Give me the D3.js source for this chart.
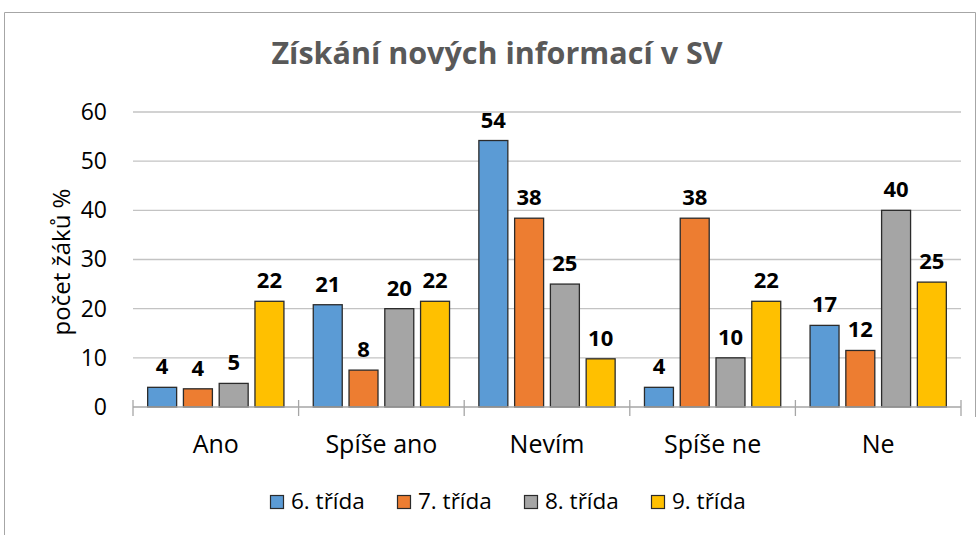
<!DOCTYPE html>
<html>
<head>
<meta charset="utf-8">
<script src="https://cdn.jsdelivr.net/npm/d3@7"></script>
<style>
  html, body { margin: 0; padding: 0; background: #fff; }
  svg { display: block; font-family: "Open Sans", sans-serif; }
</style>
</head>
<body>
<div id="container"></div>
<script>
const categories = ["Ano", "Spíše ano", "Nevím", "Spíše ne", "Ne"]
const seriesNames = ["6. třída", "7. třída", "8. třída", "9. třída"]
const trida6 = [4.0, 20.8, 54.2, 4.0, 16.6]
const trida7 = [3.7, 7.5, 38.4, 38.4, 11.5]
const trida8 = [4.8, 20.0, 25.0, 10.0, 40.0]
const trida9 = [21.5, 21.5, 9.8, 21.5, 25.4]
const yTicks = [0, 10, 20, 30, 40, 50, 60]
const colors = ["#5B9BD5", "#ED7D31", "#A5A5A5", "#FFC000"]

const allSeries = [trida6, trida7, trida8, trida9]

const width = 977
const height = 535
const margin = {top: 112, right: 16, bottom: 128, left: 133}
const innerW = width - margin.left - margin.right
const innerH = height - margin.top - margin.bottom

const svg = d3.create("svg")
    .attr("width", width)
    .attr("height", height)

// chart frame
svg.append("path")
    .attr("d", `M4.5,${height} L4.5,12.5 L975.5,12.5 L975.5,417`)
    .attr("fill", "none")
    .attr("stroke", "#a6a6a6")
    .attr("stroke-width", 1)

svg.append("text")
    .attr("x", 497)
    .attr("y", 64)
    .attr("text-anchor", "middle")
    .attr("font-size", "30.5px")
    .attr("font-weight", "bold")
    .attr("fill", "#595959")
    .text("Získání nových informací v SV")

const g = svg.append("g")
    .attr("transform", `translate(${margin.left},${margin.top})`)

const x0 = d3.scaleBand()
    .domain(categories)
    .range([0, innerW])
    .padding(0)

const x1 = d3.scaleBand()
    .domain(seriesNames)
    .range([0, x0.bandwidth()])
    .paddingInner(0.19)
    .paddingOuter(0.41)

const y = d3.scaleLinear()
    .domain([0, 60])
    .range([innerH, 0])

// gridlines
g.append("g")
    .selectAll("line")
    .data(yTicks.filter(d => d > 0))
    .enter()
    .append("line")
    .attr("x1", 0)
    .attr("x2", innerW)
    .attr("y1", d => y(d))
    .attr("y2", d => y(d))
    .attr("stroke", "#c3c3c3")
    .attr("stroke-width", 1.3)

// y axis labels
const yAxis = g.append("g")
    .call(d3.axisLeft(y).tickValues(yTicks).tickSize(0).tickPadding(26))
yAxis.select(".domain").remove()
yAxis.selectAll("text")
    .attr("font-size", "23px")
    .attr("font-family", "Open Sans, sans-serif")
    .attr("fill", "#000")

// y axis title
svg.append("text")
    .attr("transform", "translate(70,262) rotate(-90)")
    .attr("text-anchor", "middle")
    .attr("font-size", "24px")
    .attr("fill", "#000")
    .text("počet žáků %")

// bars
const groups = g.selectAll(".group")
    .data(categories)
    .enter()
    .append("g")
    .attr("class", "group")
    .attr("transform", d => `translate(${x0(d)},0)`)

const barData = (c, ci) => seriesNames.map((s, si) => ({series: s, si: si, value: allSeries[si][ci]}))

groups.selectAll("rect")
    .data((c, ci) => barData(c, ci))
    .enter()
    .append("rect")
    .attr("x", d => x1(d.series))
    .attr("y", d => y(d.value))
    .attr("width", x1.bandwidth())
    .attr("height", d => innerH - y(d.value))
    .attr("fill", d => colors[d.si])
    .attr("stroke", "#2b2b2b")
    .attr("stroke-width", 1.3)

const fmt = d3.format(".0f")
groups.selectAll(".label")
    .data((c, ci) => barData(c, ci))
    .enter()
    .append("text")
    .attr("class", "label")
    .attr("x", d => x1(d.series) + x1.bandwidth() / 2)
    .attr("y", d => y(d.value) - 13)
    .attr("text-anchor", "middle")
    .attr("font-size", "22px")
    .attr("font-weight", "bold")
    .attr("fill", "#000")
    .text(d => fmt(d.value))

// x axis
const xAxis = g.append("g")
    .attr("transform", `translate(0,${innerH})`)
    .call(d3.axisBottom(x0).tickSize(0).tickPadding(28))
xAxis.select(".domain").remove()
xAxis.selectAll("text")
    .attr("font-size", "25px")
    .attr("font-family", "Open Sans, sans-serif")
    .attr("fill", "#000")

xAxis.append("line")
    .attr("x1", 0)
    .attr("x2", innerW)
    .attr("stroke", "#a6a6a6")
    .attr("stroke-width", 1.3)

const bounds = categories.map(c => x0(c)).concat([x0(categories[categories.length - 1]) + x0.bandwidth()])
xAxis.selectAll(".bound")
    .data(bounds)
    .enter()
    .append("line")
    .attr("class", "bound")
    .attr("x1", d => d)
    .attr("x2", d => d)
    .attr("y1", -7)
    .attr("y2", 9)
    .attr("stroke", "#a6a6a6")
    .attr("stroke-width", 1.3)

// legend
const legend = svg.append("g")
    .attr("transform", "translate(270,495)")

const item = legend.selectAll(".item")
    .data(seriesNames)
    .enter()
    .append("g")
    .attr("class", "item")
    .attr("transform", (d, i) => `translate(${i * 127},0)`)

item.append("rect")
    .attr("x", 0.5)
    .attr("y", 0.5)
    .attr("width", 13)
    .attr("height", 13)
    .attr("fill", (d, i) => colors[i])
    .attr("stroke", "#2b2b2b")
    .attr("stroke-width", 1.2)

item.append("text")
    .attr("x", 21)
    .attr("y", 14)
    .attr("font-size", "22.5px")
    .attr("fill", "#000")
    .text(d => d)

document.querySelector("#container").appendChild(svg.node())
</script>
</body>
</html>
